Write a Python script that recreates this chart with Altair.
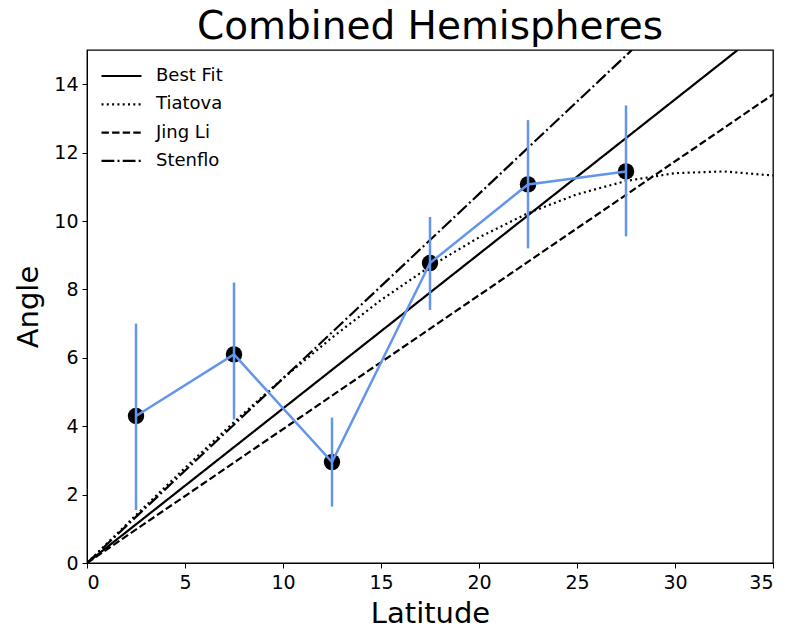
import altair as alt
import pandas as pd

# Observations (combined hemispheres)
lat = [2.5, 7.5, 12.5, 17.5, 22.5, 27.5]
angle = [4.3, 6.1, 2.95, 8.77, 11.07, 11.45]
err_lo = [1.55, 4.2, 1.65, 7.4, 9.2, 9.55]
err_hi = [7.0, 8.2, 4.25, 10.12, 12.95, 13.38]

# Model curves
models = ["Best Fit", "Tiatova", "Jing Li", "Stenflo"]
best_fit_x = [0, 33.2]
best_fit_y = [0, 15.0]
tiatova_x = [0, 2.5, 5, 7.5, 10, 12.5, 15, 17.5, 20, 22.5, 25, 27.5, 30, 32.5, 35]
tiatova_y = [0, 1.40, 2.78, 4.12, 5.40, 6.59, 7.69, 8.67, 9.52, 10.23, 10.78, 11.17, 11.40, 11.45, 11.33]
jingli_x = [0, 35]
jingli_y = [0, 13.7]
stenflo_x = [0, 27.8]
stenflo_y = [0, 15.0]

obs = pd.DataFrame({"lat": lat, "angle": angle, "lo": err_lo, "hi": err_hi})

rows = []
for name, xs, ys in [("Best Fit", best_fit_x, best_fit_y),
                     ("Tiatova", tiatova_x, tiatova_y),
                     ("Jing Li", jingli_x, jingli_y),
                     ("Stenflo", stenflo_x, stenflo_y)]:
    for i, (xv, yv) in enumerate(zip(xs, ys)):
        rows.append({"model": name, "x": xv, "y": yv, "i": i})
fits = pd.DataFrame(rows)

FONT = "DejaVu Sans"
BLUE = "#6495ED"

xscale = alt.Scale(domain=[0, 35], nice=False, zero=False)
yscale = alt.Scale(domain=[0, 15], nice=False, zero=False)

xaxis = alt.Axis(title="Latitude", values=[0, 5, 10, 15, 20, 25, 30, 35], format="d",
                 grid=False, tickSize=5, tickColor="black", domainColor="black",
                 labelFontSize=19, labelFont=FONT, labelColor="black", labelPadding=5,
                 titleFontSize=29, titleFont=FONT, titleFontWeight="normal",
                 titleColor="black", titlePadding=7)
yaxis = alt.Axis(title="Angle", values=[0, 2, 4, 6, 8, 10, 12, 14], format="d",
                 grid=False, tickSize=5, tickColor="black", domainColor="black",
                 labelFontSize=19, labelFont=FONT, labelColor="black", labelPadding=4,
                 titleFontSize=29, titleFont=FONT, titleFontWeight="normal",
                 titleColor="black", titlePadding=10)

lines = alt.Chart(fits).mark_line(color="black", strokeWidth=2.2, clip=True, strokeCap="butt").encode(
    x=alt.X("x:Q", scale=xscale, axis=xaxis),
    y=alt.Y("y:Q", scale=yscale, axis=yaxis),
    order="i:Q",
    strokeDash=alt.StrokeDash(
        "model:N",
        scale=alt.Scale(domain=models,
                        range=[[1, 0], [2, 3.3], [7.4, 3.2], [12.8, 3.2, 2, 3.2]]),
        sort=models,
        legend=alt.Legend(title=None, orient="none", legendX=13, legendY=14,
                          symbolType="stroke", symbolSize=1600, symbolStrokeWidth=2.2,
                          symbolStrokeColor="black", labelFontSize=18, labelFont=FONT,
                          labelColor="black", labelOffset=13, clipHeight=24,
                          rowPadding=4.3, padding=0),
    ),
)

points = alt.Chart(obs).mark_circle(color="black", size=270, opacity=1).encode(
    x=alt.X("lat:Q", scale=xscale),
    y=alt.Y("angle:Q", scale=yscale),
)

errs = alt.Chart(obs).mark_rule(color=BLUE, strokeWidth=2.5).encode(
    x=alt.X("lat:Q", scale=xscale),
    y=alt.Y("lo:Q", scale=yscale),
    y2="hi:Q",
)

conn = alt.Chart(obs).mark_line(color=BLUE, strokeWidth=2.5).encode(
    x=alt.X("lat:Q", scale=xscale),
    y=alt.Y("angle:Q", scale=yscale),
)

chart = alt.layer(lines, points, errs, conn).properties(
    width=686, height=513,
    background="white",
    title=alt.TitleParams("Combined Hemispheres", fontSize=39, font=FONT,
                          fontWeight="normal", color="black", anchor="middle",
                          offset=3),
    autosize=alt.AutoSizeParams(type="none"),
    padding={"left": 87, "top": 50, "right": 12, "bottom": 67},
).configure_view(stroke="black", strokeWidth=1.3)

chart.save("out.html", embed_options={"renderer": "svg", "actions": False})
